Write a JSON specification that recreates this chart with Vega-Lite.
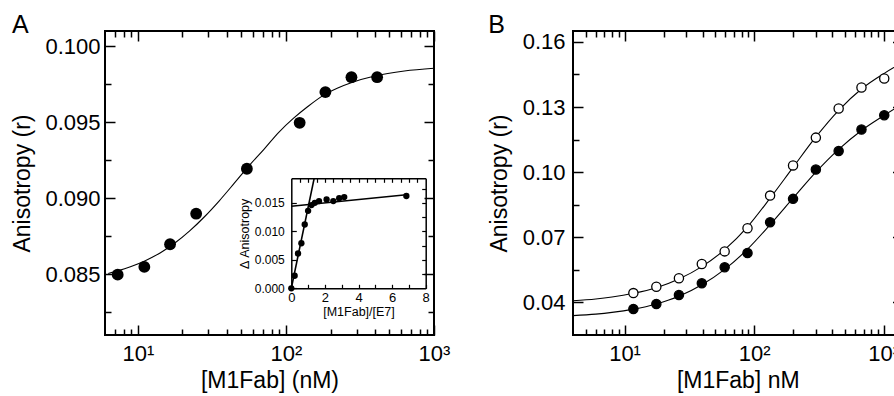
{
  "$schema": "https://vega.github.io/schema/vega-lite/v6.json",
  "background": "white",
  "padding": {"left": 10, "top": 12, "right": 0, "bottom": 0},
  "spacing": 36,
  "config": {
    "view": {"stroke": "black", "strokeWidth": 2},
    "font": "Liberation Sans",
    "axis": {
      "domain": false, "grid": false, "tickColor": "black", "tickWidth": 1.5,
      "labelColor": "black", "titleColor": "black", "labelFont": "Liberation Sans",
      "titleFont": "Liberation Sans", "titleFontWeight": "normal", "labelFontSize": 22,
      "titleFontSize": 23, "labelFlush": false, "labelOverlap": false
    },
    "title": {"font": "Liberation Sans", "fontWeight": "normal", "fontSize": 25, "color": "black", "anchor": "start", "frame": "bounds", "offset": -8}
  },
  "hconcat": [
    {
      "title": {"text": "A"},
      "width": 329,
      "height": 304,
      "layer": [
        {
          "data": {"values": [
            {"conc": 6.31, "r": 0.08505}, {"conc": 7.31, "r": 0.08522}, {"conc": 8.91, "r": 0.08549},
            {"conc": 11.22, "r": 0.08589}, {"conc": 14.13, "r": 0.0864}, {"conc": 17.78, "r": 0.08705},
            {"conc": 22.39, "r": 0.08785}, {"conc": 28.18, "r": 0.08878}, {"conc": 35.48, "r": 0.08983},
            {"conc": 44.67, "r": 0.09097}, {"conc": 56.23, "r": 0.09213}, {"conc": 70.79, "r": 0.0932},
            {"conc": 89.13, "r": 0.09432}, {"conc": 112.2, "r": 0.09525}, {"conc": 141.3, "r": 0.09605},
            {"conc": 177.8, "r": 0.09675}, {"conc": 223.9, "r": 0.09725}, {"conc": 281.8, "r": 0.09763},
            {"conc": 398.1, "r": 0.09804}, {"conc": 631, "r": 0.09837}, {"conc": 1000, "r": 0.09855}
          ]},
          "mark": {"type": "line", "color": "black", "strokeWidth": 1.1, "interpolate": "monotone"},
          "encoding": {
            "x": {"field": "conc", "type": "quantitative",
              "scale": {"type": "log", "domain": [6, 1000], "nice": false},
              "axis": {"orient": "top", "title": null, "labels": false,
                "values": [7,8,9,10,20,30,40,50,60,70,80,90,100,200,300,400,500,600,700,800,900,1000],
                "tickSize": {"condition": {"test": "datum.value == 10 || datum.value == 100 || datum.value == 1000", "value": -10}, "value": -6}}},
            "y": {"field": "r", "type": "quantitative",
              "scale": {"domain": [0.081, 0.101], "nice": false, "zero": false},
              "axis": {"orient": "right", "title": null, "labels": false,
                "values": [0.0825, 0.085, 0.0875, 0.09, 0.0925, 0.095, 0.0975, 0.1],
                "tickSize": {"condition": {"test": "abs(datum.value / 0.005 - round(datum.value / 0.005)) < 0.05", "value": -10}, "value": -6}}}
          }
        },
        {
          "data": {"values": [
            {"conc": 7.31, "r": 0.08497}, {"conc": 11.06, "r": 0.08548}, {"conc": 16.5, "r": 0.08697},
            {"conc": 24.76, "r": 0.08898}, {"conc": 54.5, "r": 0.09194}, {"conc": 123.8, "r": 0.09496},
            {"conc": 184.7, "r": 0.09698}, {"conc": 277, "r": 0.09796}, {"conc": 413, "r": 0.09796}
          ]},
          "mark": {"type": "circle", "color": "black", "opacity": 1, "size": 140},
          "encoding": {
            "x": {"field": "conc", "type": "quantitative",
              "scale": {"type": "log", "domain": [6, 1000], "nice": false},
              "axis": {"orient": "bottom", "title": "[M1Fab] (nM)", "titlePadding": 1, "labelPadding": 18,
                "values": [7,8,9,10,20,30,40,50,60,70,80,90,100,200,300,400,500,600,700,800,900,1000],
                "labelExpr": "datum.value == 10 ? '10¹' : datum.value == 100 ? '10²' : datum.value == 1000 ? '10³' : ''",
                "tickSize": {"condition": {"test": "datum.value == 10 || datum.value == 100 || datum.value == 1000", "value": -10}, "value": -6}}},
            "y": {"field": "r", "type": "quantitative",
              "scale": {"domain": [0.081, 0.101], "nice": false, "zero": false},
              "axis": {"orient": "left", "title": "Anisotropy (r)", "titlePadding": 10, "labelPadding": 15,
                "values": [0.0825, 0.085, 0.0875, 0.09, 0.0925, 0.095, 0.0975, 0.1],
                "labelExpr": "abs(datum.value / 0.005 - round(datum.value / 0.005)) < 0.05 ? format(datum.value, '.3f') : ''",
                "tickSize": {"condition": {"test": "abs(datum.value / 0.005 - round(datum.value / 0.005)) < 0.05", "value": -10}, "value": -6}}}
          }
        },
        {
          "data": {"values": [
            {"line": "steep", "ratio": 0, "d": 0}, {"line": "steep", "ratio": 1.36, "d": 0.0193},
            {"line": "flat", "ratio": 0, "d": 0.0144}, {"line": "flat", "ratio": 6.85, "d": 0.0164}
          ]},
          "mark": {"type": "line", "color": "black", "strokeWidth": 1.6},
          "encoding": {
            "detail": {"field": "line", "type": "nominal"},
            "x": {"field": "ratio", "type": "quantitative",
              "scale": {"domain": [0, 8], "range": [186.3, 320.7], "nice": false, "zero": false},
              "axis": {"orient": "top", "offset": -147.3, "title": null, "labels": false, "domain": true,
                "domainColor": "black", "domainWidth": 1.5, "tickSize": -4, "tickWidth": 1.2,
                "values": [0.5,1,1.5,2,2.5,3,3.5,4,4.5,5,5.5,6,6.5,7,7.5]}},
            "y": {"field": "d", "type": "quantitative",
              "scale": {"domain": [0, 0.0193], "range": [257.3, 147.3], "nice": false, "zero": false},
              "axis": {"orient": "right", "offset": -8.3, "title": null, "labels": false, "domain": true,
                "domainColor": "black", "domainWidth": 1.5, "tickSize": -4, "tickWidth": 1.2,
                "values": [0.0025, 0.005, 0.0075, 0.01, 0.0125, 0.015, 0.0175]}}
          }
        },
        {
          "data": {"values": [
            {"ratio": 0, "d": 0}, {"ratio": 0.2, "d": 0.0022}, {"ratio": 0.4, "d": 0.0061},
            {"ratio": 0.6, "d": 0.0079}, {"ratio": 0.8, "d": 0.0112}, {"ratio": 1.0, "d": 0.0136},
            {"ratio": 1.2, "d": 0.0146}, {"ratio": 1.4, "d": 0.015}, {"ratio": 1.65, "d": 0.0153},
            {"ratio": 2.1, "d": 0.0156}, {"ratio": 2.5, "d": 0.0153}, {"ratio": 2.85, "d": 0.0158},
            {"ratio": 3.15, "d": 0.016}, {"ratio": 6.85, "d": 0.0162}
          ]},
          "mark": {"type": "circle", "color": "black", "opacity": 1, "size": 40},
          "encoding": {
            "x": {"field": "ratio", "type": "quantitative",
              "scale": {"domain": [0, 8], "range": [186.3, 320.7], "nice": false, "zero": false},
              "axis": {"orient": "bottom", "offset": -46.7, "title": "[M1Fab]/[E7]", "titleFontSize": 12.5,
                "titlePadding": 1, "labelFontSize": 13, "labelPadding": 7, "domain": true,
                "domainColor": "black", "domainWidth": 1.5, "tickSize": -4, "tickWidth": 1.2,
                "values": [0,1,2,3,4,5,6,7,8],
                "labelExpr": "datum.value % 2 == 0 ? datum.label : ''"}},
            "y": {"field": "d", "type": "quantitative",
              "scale": {"domain": [0, 0.0193], "range": [257.3, 147.3], "nice": false, "zero": false},
              "axis": {"orient": "left", "offset": -186.3, "title": "Δ Anisotropy", "titleFontSize": 12.5,
                "titlePadding": 3, "labelFontSize": 12, "labelPadding": 12, "domain": true,
                "domainColor": "black", "domainWidth": 1.5, "tickSize": -5, "tickWidth": 1.2,
                "values": [0, 0.005, 0.01, 0.015], "format": ".3f"}}
          }
        }
      ],
      "resolve": {"scale": {"x": "independent", "y": "independent"}, "axis": {"x": "independent", "y": "independent"}}
    },
    {
      "title": {"text": "B"},
      "width": 329.5,
      "height": 304,
      "layer": [
        {
          "data": {"values": [
            {"series": "open", "conc": 4, "r": 0.0408}, {"series": "open", "conc": 6, "r": 0.0416},
            {"series": "open", "conc": 8, "r": 0.0425}, {"series": "open", "conc": 11.7, "r": 0.0442},
            {"series": "open", "conc": 17.6, "r": 0.0468}, {"series": "open", "conc": 26.3, "r": 0.0508},
            {"series": "open", "conc": 39.5, "r": 0.0565}, {"series": "open", "conc": 59.3, "r": 0.0643},
            {"series": "open", "conc": 89, "r": 0.0748}, {"series": "open", "conc": 133, "r": 0.088},
            {"series": "open", "conc": 200, "r": 0.1022}, {"series": "open", "conc": 300, "r": 0.1162},
            {"series": "open", "conc": 450, "r": 0.1285}, {"series": "open", "conc": 675, "r": 0.1383},
            {"series": "open", "conc": 1012, "r": 0.1455}, {"series": "open", "conc": 1400, "r": 0.1505},
            {"series": "filled", "conc": 4, "r": 0.0339}, {"series": "filled", "conc": 6, "r": 0.0346},
            {"series": "filled", "conc": 8, "r": 0.0354}, {"series": "filled", "conc": 11.7, "r": 0.0369},
            {"series": "filled", "conc": 17.6, "r": 0.0393}, {"series": "filled", "conc": 26.3, "r": 0.0428},
            {"series": "filled", "conc": 39.5, "r": 0.0481}, {"series": "filled", "conc": 59.3, "r": 0.0552},
            {"series": "filled", "conc": 89, "r": 0.0645}, {"series": "filled", "conc": 133, "r": 0.0758},
            {"series": "filled", "conc": 200, "r": 0.088}, {"series": "filled", "conc": 300, "r": 0.1},
            {"series": "filled", "conc": 450, "r": 0.1105}, {"series": "filled", "conc": 675, "r": 0.1192},
            {"series": "filled", "conc": 1012, "r": 0.1262}, {"series": "filled", "conc": 1400, "r": 0.1315}
          ]},
          "mark": {"type": "line", "color": "black", "strokeWidth": 1.1, "interpolate": "monotone"},
          "encoding": {
            "detail": {"field": "series", "type": "nominal"},
            "x": {"field": "conc", "type": "quantitative",
              "scale": {"type": "log", "domain": [4, 1400], "nice": false},
              "axis": {"orient": "top", "title": null, "labels": false,
                "values": [5,6,7,8,9,10,20,30,40,50,60,70,80,90,100,200,300,400,500,600,700,800,900,1000],
                "tickSize": {"condition": {"test": "datum.value == 10 || datum.value == 100 || datum.value == 1000", "value": -10}, "value": -6}}},
            "y": {"field": "r", "type": "quantitative",
              "scale": {"domain": [0.025, 0.165], "nice": false, "zero": false},
              "axis": {"orient": "right", "title": null, "labels": false,
                "values": [0.04, 0.055, 0.07, 0.085, 0.1, 0.115, 0.13, 0.145, 0.16],
                "tickSize": {"condition": {"test": "abs((datum.value - 0.01) / 0.03 - round((datum.value - 0.01) / 0.03)) < 0.05", "value": -10}, "value": -6}}}
          }
        },
        {
          "data": {"values": [
            {"series": "open", "conc": 11.7, "r": 0.0443}, {"series": "open", "conc": 17.6, "r": 0.0472},
            {"series": "open", "conc": 26.3, "r": 0.0511}, {"series": "open", "conc": 39.5, "r": 0.0577},
            {"series": "open", "conc": 59.3, "r": 0.0635}, {"series": "open", "conc": 89, "r": 0.0742},
            {"series": "open", "conc": 133, "r": 0.0892}, {"series": "open", "conc": 200, "r": 0.1031},
            {"series": "open", "conc": 300, "r": 0.1159}, {"series": "open", "conc": 450, "r": 0.1293},
            {"series": "open", "conc": 675, "r": 0.139}, {"series": "open", "conc": 1012, "r": 0.1431},
            {"series": "filled", "conc": 11.7, "r": 0.037}, {"series": "filled", "conc": 17.6, "r": 0.0393},
            {"series": "filled", "conc": 26.3, "r": 0.0434}, {"series": "filled", "conc": 39.5, "r": 0.0488},
            {"series": "filled", "conc": 59.3, "r": 0.0562}, {"series": "filled", "conc": 89, "r": 0.0628},
            {"series": "filled", "conc": 133, "r": 0.0769}, {"series": "filled", "conc": 200, "r": 0.0877},
            {"series": "filled", "conc": 300, "r": 0.1012}, {"series": "filled", "conc": 450, "r": 0.1097},
            {"series": "filled", "conc": 675, "r": 0.1196}, {"series": "filled", "conc": 1012, "r": 0.1262}
          ]},
          "mark": {"type": "point", "shape": "circle", "filled": true, "stroke": "black", "strokeWidth": 1.3, "size": 85, "opacity": 1},
          "encoding": {
            "fill": {"field": "series", "type": "nominal", "scale": {"domain": ["open", "filled"], "range": ["white", "black"]}, "legend": null},
            "x": {"field": "conc", "type": "quantitative",
              "scale": {"type": "log", "domain": [4, 1400], "nice": false},
              "axis": {"orient": "bottom", "title": "[M1Fab] nM", "titlePadding": 1, "labelPadding": 18,
                "values": [5,6,7,8,9,10,20,30,40,50,60,70,80,90,100,200,300,400,500,600,700,800,900,1000],
                "labelExpr": "datum.value == 10 ? '10¹' : datum.value == 100 ? '10²' : datum.value == 1000 ? '10³' : ''",
                "tickSize": {"condition": {"test": "datum.value == 10 || datum.value == 100 || datum.value == 1000", "value": -10}, "value": -6}}},
            "y": {"field": "r", "type": "quantitative",
              "scale": {"domain": [0.025, 0.165], "nice": false, "zero": false},
              "axis": {"orient": "left", "title": "Anisotropy (r)", "titlePadding": 11, "labelPadding": 18,
                "values": [0.04, 0.055, 0.07, 0.085, 0.1, 0.115, 0.13, 0.145, 0.16],
                "labelExpr": "abs((datum.value - 0.01) / 0.03 - round((datum.value - 0.01) / 0.03)) < 0.05 ? format(datum.value, '.2f') : ''",
                "tickSize": {"condition": {"test": "abs((datum.value - 0.01) / 0.03 - round((datum.value - 0.01) / 0.03)) < 0.05", "value": -10}, "value": -6}}}
          }
        }
      ],
      "resolve": {"scale": {"x": "independent", "y": "independent", "fill": "independent"}, "axis": {"x": "independent", "y": "independent"}}
    }
  ]
}
